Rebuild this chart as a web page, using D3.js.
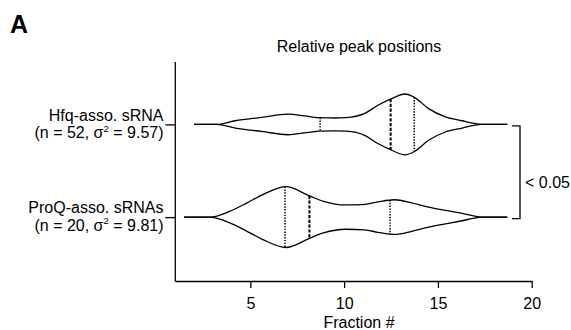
<!DOCTYPE html>
<html>
<head>
<meta charset="utf-8">
<script src="https://cdn.jsdelivr.net/npm/d3@7"></script>
<style>
  html, body { margin: 0; padding: 0; background: #fff; }
  svg { display: block; font-family: "Liberation Sans", Arial, Helvetica, sans-serif; }
</style>
</head>
<body>
<svg id="chart" width="571" height="330"></svg>
<script>
// Groups of small RNAs and their summary statistics
const groups = ["Hfq-asso. sRNA", "ProQ-asso. sRNAs"];
const groupN = [52, 20];
const groupVariance = [9.57, 9.81];

// Kernel density outline of peak positions (relative density, max = 1)
const hfqFraction = [2.0, 3.2, 4.2, 5.6, 7.0, 8.0, 8.7, 9.5, 10.1, 11.1, 11.8, 12.5, 13.25, 13.75, 14.5, 15.4, 16.3, 16.85, 17.35, 18.7];
const hfqDensity  = [0, 0, 0.12, 0.23, 0.34, 0.27, 0.22, 0.21, 0.22, 0.36, 0.63, 0.84, 1.0, 0.89, 0.52, 0.25, 0.12, 0.04, 0, 0];
const proqFraction = [1.47, 2.85, 3.9, 4.8, 5.7, 6.9, 8.15, 8.9, 10.1, 11.1, 11.8, 12.7, 13.6, 14.5, 15.4, 16.3, 16.85, 17.35, 18.7];
const proqDensity  = [0, 0, 0.19, 0.46, 0.75, 1.0, 0.7, 0.52, 0.4, 0.42, 0.5, 0.57, 0.47, 0.33, 0.22, 0.12, 0.045, 0, 0];

// Quartiles: [Q1, median, Q3]
const hfqQuartiles = [8.72, 12.48, 13.74];
const proqQuartiles = [6.85, 8.15, 12.45];

const fractionTicks = [5, 10, 15, 20];
const chartTitle = "Relative peak positions";
const xTitle = "Fraction #";
const pLabel = "< 0.05";
const panelLabel = "A";

const violins = [
  { group: groups[0], fraction: hfqFraction, density: hfqDensity, quartiles: hfqQuartiles },
  { group: groups[1], fraction: proqFraction, density: proqDensity, quartiles: proqQuartiles }
];

const svg = d3.select("#chart");
const plotTop = 62, plotBottom = 281;
const fs = 16;

const x = d3.scaleLinear().domain([1, 20]).range([175.3, 531.7]);
const y = d3.scalePoint().domain(groups).range([124.4, 217.1]);
const w = d3.scaleLinear().domain([0, 1]).range([0, 30.4]);

// Panel letter and title
svg.append("text").attr("x", 10).attr("y", 33)
  .attr("font-size", 25).attr("font-weight", "bold").text(panelLabel);
svg.append("text").attr("x", 359).attr("y", 52.3).attr("text-anchor", "middle")
  .attr("font-size", fs).text(chartTitle);

// X axis
const xAxis = svg.append("g").attr("transform", `translate(0,${plotBottom})`)
  .call(d3.axisBottom(x).tickValues(fractionTicks).tickSize(7).tickSizeOuter(0).tickPadding(10));
xAxis.select(".domain").attr("stroke-width", 1.3);
xAxis.selectAll(".tick line").attr("stroke-width", 1.3);
xAxis.selectAll(".tick text").attr("font-size", fs).attr("font-family", null).attr("fill", "#000");
svg.append("text").attr("x", 359).attr("y", 327.5).attr("text-anchor", "middle")
  .attr("font-size", fs).text(xTitle);

// Y axis: vertical line plus one tick per group
const yAxisX = x(1);
svg.append("line").attr("x1", yAxisX).attr("x2", yAxisX)
  .attr("y1", plotTop).attr("y2", plotBottom + 0.65)
  .attr("stroke", "#000").attr("stroke-width", 1.3);
const yAxis = svg.append("g").attr("transform", `translate(${yAxisX},0)`)
  .call(d3.axisLeft(y).tickSize(10).tickFormat(""));
yAxis.select(".domain").remove();
yAxis.selectAll(".tick line").attr("stroke-width", 1.3);

// Two-line group labels
groups.forEach((g, i) => {
  const t = svg.append("text").attr("text-anchor", "end").attr("font-size", fs);
  t.append("tspan").attr("x", 163.5).attr("y", y(g) - 3.8).text(g);
  const l2 = t.append("tspan").attr("x", 163.5).attr("y", y(g) + 13.8);
  l2.append("tspan").text(`(n = ${groupN[i]}, \u03C3`);
  l2.append("tspan").attr("font-size", 9.5).attr("dy", -6.5).text("2");
  l2.append("tspan").attr("dy", 6.5).text(` = ${groupVariance[i].toFixed(2)})`);
});

// Violins
const outline = d3.line().curve(d3.curveMonotoneX);
violins.forEach(v => {
  const cy = y(v.group);
  const upper = v.fraction.map((f, i) => [x(f), cy - w(v.density[i])]);
  const lower = v.fraction.map((f, i) => [x(f), cy + w(v.density[i])]);
  const g = svg.append("g");
  const top = g.append("path").attr("d", outline(upper))
    .attr("fill", "none").attr("stroke", "#000").attr("stroke-width", 1.3);
  const bot = g.append("path").attr("d", outline(lower))
    .attr("fill", "none").attr("stroke", "#000").attr("stroke-width", 1.3);

  // y of an x-monotone path at a given x
  const yAt = (pathEl, px) => {
    const len = pathEl.getTotalLength();
    let lo = 0, hi = len;
    for (let k = 0; k < 40; k++) {
      const mid = (lo + hi) / 2;
      if (pathEl.getPointAtLength(mid).x < px) lo = mid; else hi = mid;
    }
    return pathEl.getPointAtLength((lo + hi) / 2).y;
  };

  v.quartiles.forEach((q, k) => {
    const px = x(q);
    const isMedian = k === 1;
    g.append("line")
      .attr("x1", px).attr("x2", px)
      .attr("y1", yAt(top.node(), px)).attr("y2", yAt(bot.node(), px))
      .attr("stroke", "#000")
      .attr("stroke-width", isMedian ? 2 : 1.5)
      .attr("stroke-dasharray", isMedian ? "3.2,1.6" : "1.4,1.4");
  });
});

// Significance bracket between the two groups
const by1 = y(groups[0]) + 1.5, by2 = y(groups[1]) + 1.5;
svg.append("path")
  .attr("d", `M512,${by1}H520V${by2}H512`)
  .attr("fill", "none").attr("stroke", "#000").attr("stroke-width", 1.3);
svg.append("text").attr("x", 525).attr("y", 187.5).attr("font-size", fs).text(pLabel);
</script>
</body>
</html>
